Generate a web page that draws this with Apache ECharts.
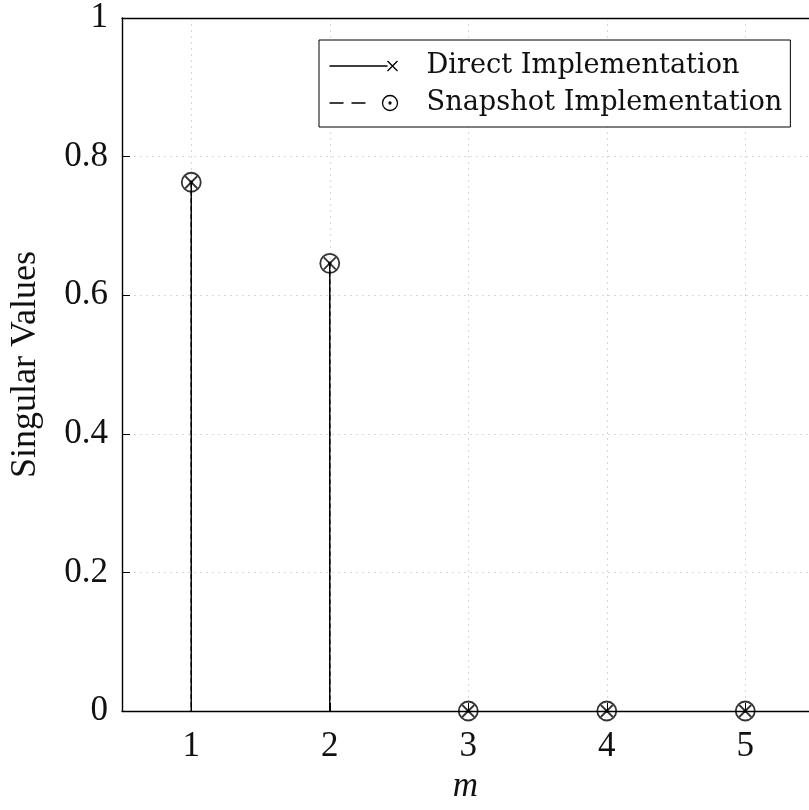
<!DOCTYPE html>
<html>
<head>
<meta charset="utf-8">
<script src="https://cdn.jsdelivr.net/npm/echarts@6/dist/echarts.min.js"></script>
<style>
  html, body { margin: 0; padding: 0; background: #fff; }
  #main { width: 809px; height: 810px; }
</style>
</head>
<body>
<div id="main"></div>
<script>
// data
const mValues = [1, 2, 3, 4, 5];
const directValues = [0.763, 0.646, 0, 0, 0];
const snapshotValues = [0.763, 0.646, 0, 0, 0];
const xTicks = [1, 2, 3, 4, 5];
const seriesNames = ['Direct Implementation', 'Snapshot Implementation'];

const FONT = 'Liberation Serif';
const LEGEND_FONT = 'DejaVu Serif';

// marker shapes
const crossPath = 'path://M0,0L10,10M10,0L0,10';
const circleDotPath = 'path://M20,10A10,10,0,1,1,0,10A10,10,0,1,1,20,10Z M11,10A1,1,0,1,1,9,10A1,1,0,1,1,11,10Z';
// legend icons: line + marker at right end, blank space before the text
const directIcon = 'path://M0,8L58,8M58,3L68,13M68,3L58,13M92,8L92,8';
const snapshotIcon = 'path://M0,8L14,8M22,8L36,8M68,8A7.5,7.5,0,1,1,53,8A7.5,7.5,0,1,1,68,8Z M61.5,8A1,1,0,1,1,59.5,8A1,1,0,1,1,61.5,8Z M92,8L92,8';

const toPairs = vals => mValues.map((m, i) => [m, vals[i]]);

function stemRenderer(dashed) {
    return function (params, api) {
        const top = api.coord([api.value(0), api.value(1)]);
        const base = api.coord([api.value(0), 0]);
        return {
            type: 'line',
            shape: { x1: top[0], y1: top[1], x2: base[0], y2: base[1] },
            style: { stroke: '#000', lineWidth: 1.4, lineDash: dashed ? [5, 3] : null }
        };
    };
}

const myChart = echarts.init(document.getElementById('main'));

// the box runs past the right edge of the picture: x goes 0.5 .. ~5.46 visible
const X_MIN = 0.5, X_MAX = 5.46;
const gridLine = { show: true, lineStyle: { color: '#d8d8d8', type: [2, 4], width: 1 } };

const option = {
    animation: false,
    backgroundColor: '#fff',
    grid: { left: 122, top: 18, width: 687, height: 693 },
    legend: {
        orient: 'vertical',
        left: 319, top: 40,
        padding: [12, 8, 10, 8],
        itemGap: 9,
        itemWidth: 92, itemHeight: 16,
        borderColor: '#000', borderWidth: 1, backgroundColor: '#fff',
        textStyle: { fontFamily: LEGEND_FONT, fontSize: 27.2, color: '#111', lineHeight: 28 },
        data: [
            { name: seriesNames[0], icon: directIcon,
              itemStyle: { color: 'none', borderColor: '#000', borderWidth: 1.3 } },
            { name: seriesNames[1], icon: snapshotIcon,
              itemStyle: { color: 'none', borderColor: '#000', borderWidth: 1.3 } }
        ]
    },
    xAxis: [{
        type: 'value',
        min: X_MIN, max: X_MAX,
        name: 'm',
        nameLocation: 'middle',
        nameGap: 58,
        nameTextStyle: { fontFamily: FONT, fontSize: 35, fontStyle: 'italic', color: '#111' },
        axisLine: { lineStyle: { color: '#000', width: 1.4 } },
        axisTick: { inside: true, length: 8, customValues: xTicks, lineStyle: { color: '#000' } },
        axisLabel: { customValues: xTicks, margin: 18, fontFamily: FONT, fontSize: 35, color: '#111' },
        splitLine: gridLine
    }, {
        // top edge of the box
        type: 'value',
        position: 'top',
        min: X_MIN, max: X_MAX,
        axisLine: { show: true, lineStyle: { color: '#000', width: 1.4 } },
        axisTick: { show: false },
        axisLabel: { show: false },
        splitLine: { show: false }
    }],
    yAxis: {
        type: 'value',
        min: 0, max: 1, interval: 0.2,
        name: 'Singular Values',
        nameLocation: 'middle',
        nameGap: 78,
        nameTextStyle: { fontFamily: FONT, fontSize: 36, color: '#111' },
        axisLine: { show: true, lineStyle: { color: '#000', width: 1.4 } },
        axisTick: { show: true, inside: true, length: 8, lineStyle: { color: '#000' } },
        axisLabel: { margin: 14, fontFamily: FONT, fontSize: 35, color: '#111' },
        splitLine: gridLine
    },
    series: [
        {
            name: seriesNames[0],
            type: 'custom',
            renderItem: stemRenderer(false),
            data: toPairs(directValues),
            z: 2
        },
        {
            name: seriesNames[1],
            type: 'custom',
            renderItem: stemRenderer(true),
            data: toPairs(snapshotValues),
            z: 3
        },
        {
            name: seriesNames[0],
            type: 'scatter',
            symbol: crossPath,
            symbolSize: 12,
            itemStyle: { color: 'none', borderColor: '#000', borderWidth: 1.8 },
            data: toPairs(directValues),
            z: 5
        },
        {
            name: seriesNames[1],
            type: 'scatter',
            symbol: circleDotPath,
            symbolSize: 19,
            itemStyle: { color: 'none', borderColor: '#000', borderWidth: 1.8 },
            data: toPairs(snapshotValues),
            z: 4
        }
    ]
};

myChart.setOption(option);
</script>
</body>
</html>
